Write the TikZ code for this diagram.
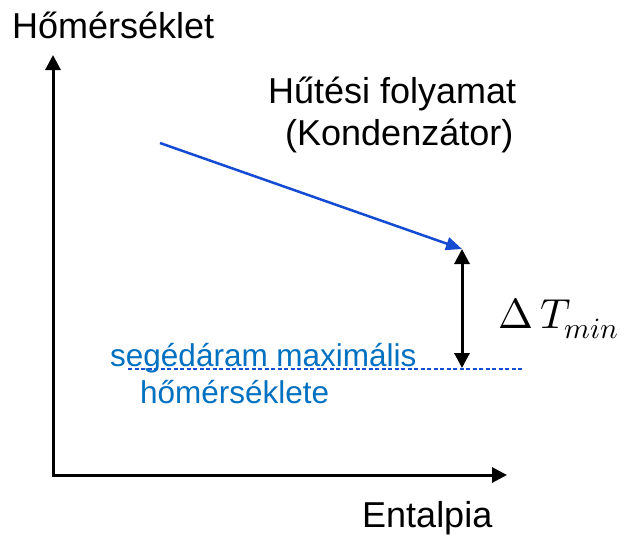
\documentclass[tikz,border=0pt]{standalone}
\usepackage{fontspec}
\usepackage{unicode-math}
\setmainfont{Liberation Sans}
\setmathfont{Latin Modern Math}
\usetikzlibrary{arrows.meta}
\definecolor{flowblue}{RGB}{20,75,210}
\definecolor{lblblue}{RGB}{0,112,192}
\definecolor{dashblue}{RGB}{20,80,210}
\tikzset{
  lbl/.style={inner sep=0pt,font=\fontsize{36}{40}\selectfont},
  bluelbl/.style={inner sep=0pt,text=lblblue,font=\fontsize{31.5}{35}\selectfont},
  axis/.style={line width=3pt,-{Triangle[length=15pt,width=15pt]}},
}
\begin{document}
\begin{tikzpicture}[x=1pt,y=-1pt]
\useasboundingbox (0,0) rectangle (630,539);
% axes
\coordinate (O) at (53,475);
\coordinate (ytip) at (53,55);
\coordinate (xtip) at (507,475);
\draw[axis] (53,476.5) -- (ytip);
\draw[axis] (51.5,475) -- (xtip);
\node[lbl,anchor=base west] (ylab) at (12,38) {Hőmérséklet};
\node[lbl,anchor=base west] (xlab) at (362,527) {Entalpia};
% cooling process
\node[lbl,anchor=base west] (t1) at (268,103) {Hűtési folyamat};
\node[lbl,anchor=base west] (t2) at (285,145) {(Kondenzátor)};
\coordinate (cs) at (160,143);
\coordinate (ce) at (462,249);
\draw[flowblue,line width=2.5pt,-{Triangle[length=16pt,width=13pt]}] (cs) -- (ce);
% delta T
\coordinate (dt) at (462,249);
\coordinate (db) at (462,368);
\draw[line width=3pt,{Triangle[length=15pt,width=15pt]}-{Triangle[length=15pt,width=15pt]}] (dt) -- (db);
\node[inner sep=0pt,anchor=base west,font=\fontsize{42}{46}\selectfont] (dT) at (498,328) {$\Delta\,T_{min}$};
% dashed auxiliary max temp line
\coordinate (ls) at (128,369);
\coordinate (le) at (522,369);
\draw[dashblue,line width=1.5pt,dash pattern=on 4pt off 2.5pt] (ls) -- (le);
\node[bluelbl,anchor=base west] (b1) at (110,366) {segédáram maximális};
\node[bluelbl,anchor=base west] (b2) at (140,403) {hőmérséklete};
\end{tikzpicture}
\end{document}
